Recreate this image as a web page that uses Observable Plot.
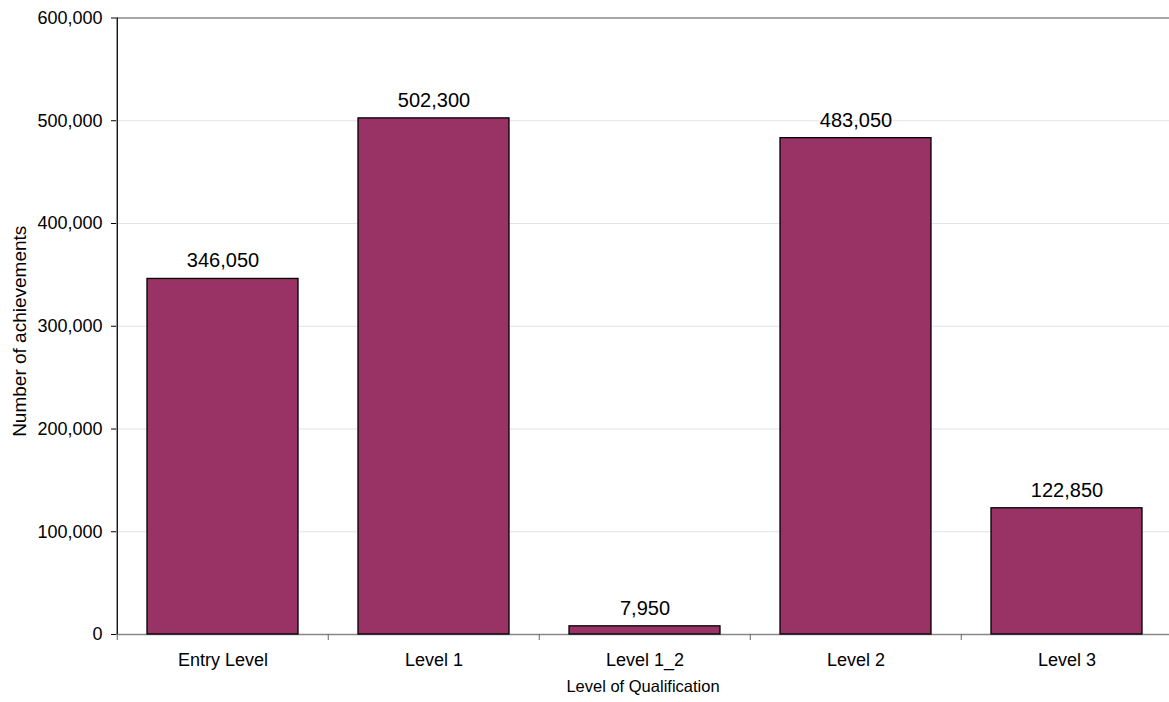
<!DOCTYPE html>
<html>
<head>
<meta charset="utf-8">
<script src="https://cdn.jsdelivr.net/npm/d3@7"></script>
<script src="https://cdn.jsdelivr.net/npm/@observablehq/plot@0.6"></script>
<style>
  html, body { margin: 0; padding: 0; background: #fff; overflow: hidden; }
</style>
</head>
<body>
<div id="chart"></div>
<script>
const categories = ["Entry Level", "Level 1", "Level 1_2", "Level 2", "Level 3"];
const values = [346050, 502300, 7950, 483050, 122850];
const yTicks = [0, 100000, 200000, 300000, 400000, 500000, 600000];
const xTitle = "Level of Qualification";
const yTitle = "Number of achievements";

const data = categories.map((c, i) => ({category: c, value: values[i]}));

const W = 1169, H = 702;
const plotLeft = 116, plotRight = 1173.5, plotTop = 17.5, plotBottom = 634;
const step = (plotRight - plotLeft) / categories.length;
const fmt = d3.format(",");

const chart = Plot.plot({
  width: W,
  height: H,
  marginLeft: plotLeft,
  marginRight: 0,
  marginTop: plotTop,
  marginBottom: H - plotBottom,
  style: {fontFamily: "'Liberation Sans', Arial, sans-serif", color: "#000", background: "#fff"},
  x: {domain: categories, range: [plotLeft, plotRight], paddingInner: 0.286, paddingOuter: 0.143, label: null},
  y: {domain: [0, 600000], label: null},
  marks: [
    Plot.gridY(yTicks.filter(d => d > 0 && d < 600000), {stroke: "#e3e3e3", strokeOpacity: 1}),
    Plot.ruleY([600000], {stroke: "#888", strokeWidth: 1.5}),
    Plot.ruleY([0], {stroke: "#888", strokeWidth: 1.5}),
    Plot.barY(data, {x: "category", y: "value", fill: "#993366", stroke: "#000", strokeWidth: 1.3}),
    Plot.ruleX([categories[0]], {x: d => d, dx: -step / 2, stroke: "#000", strokeWidth: 1.3}),
    Plot.ruleX(categories, {x: d => d, dx: -step / 2, y1: 0, y2: 0, insetBottom: -6, stroke: "#666"}),
    Plot.axisY({ticks: yTicks, tickSize: 5, tickPadding: 9, tickFormat: fmt, fontSize: 18, stroke: "#000"}),
    Plot.axisX({tickSize: 0, tickPadding: 19, fontSize: 18}),
    Plot.text(data, {x: "category", y: "value", text: d => fmt(d.value), dy: -18, fontSize: 20, fill: "#000"}),
    Plot.text([xTitle], {frameAnchor: "bottom", dy: 57, fontSize: 16.5, fill: "#000"}),
    Plot.text([yTitle], {frameAnchor: "left", textAnchor: "middle", dx: -97, dy: 5, rotate: -90, fontSize: 19, fill: "#000"})
  ]
});
document.getElementById("chart").appendChild(chart);
</script>
</body>
</html>
